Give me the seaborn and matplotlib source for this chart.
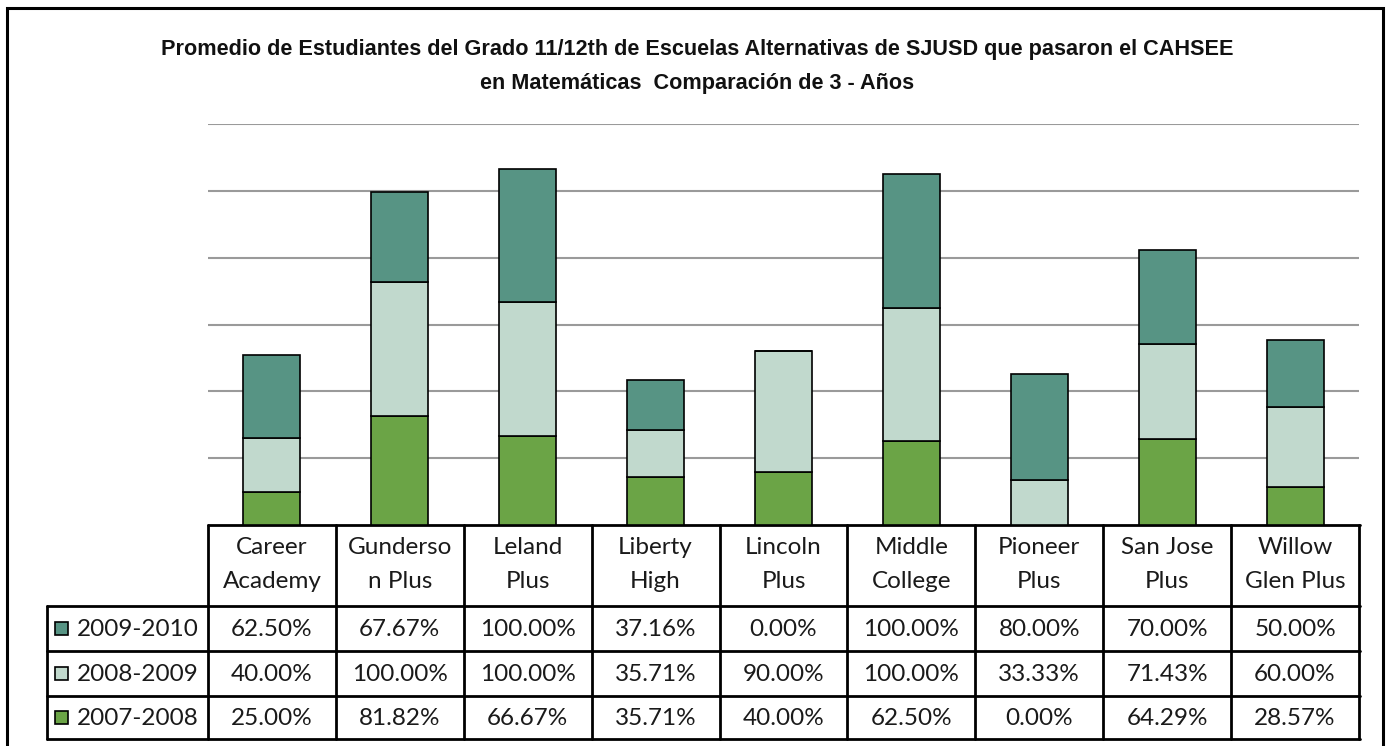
import numpy as np
import matplotlib
matplotlib.use("Agg")
import matplotlib.pyplot as plt
import seaborn as sns
from matplotlib.patches import Rectangle

# data
schools = ["Career\nAcademy", "Gunderso\nn Plus", "Leland\nPlus", "Liberty\nHigh", "Lincoln\nPlus",
           "Middle\nCollege", "Pioneer\nPlus", "San Jose\nPlus", "Willow\nGlen Plus"]
years = ["2009-2010", "2008-2009", "2007-2008"]
v2010 = [62.50, 67.67, 100.00, 37.16, 0.00, 100.00, 80.00, 70.00, 50.00]
v2009 = [40.00, 100.00, 100.00, 35.71, 90.00, 100.00, 33.33, 71.43, 60.00]
v2008 = [25.00, 81.82, 66.67, 35.71, 40.00, 62.50, 0.00, 64.29, 28.57]
colors = {"2009-2010": "#579484", "2008-2009": "#c1d9cd", "2007-2008": "#6ba446"}

sns.set_theme(style="white")
plt.rcParams['font.family'] = ['Lato', 'DejaVu Sans']

W, H = 1391, 746
fig = plt.figure(figsize=(W / 100, H / 100), dpi=100)

# background axes in pixel coordinates for frame, title and table
bg = fig.add_axes([0, 0, 1, 1], zorder=0)
bg.set_xlim(0, W)
bg.set_ylim(H, 0)
bg.axis("off")

x0, x1, ytop, ybot = 208, 1359, 124, 525
ax = fig.add_axes([x0 / W, (H - ybot) / H, (x1 - x0) / W, (ybot - ytop) / H], zorder=1)
ax.patch.set_alpha(0)

n = len(schools)
xs = np.arange(n)
b1 = np.array(v2008)
b2 = b1 + np.array(v2009)
kw = dict(width=0.445, edgecolor="black", linewidth=1.2, ax=ax, zorder=3)
sns.barplot(x=xs, y=v2008, color=colors["2007-2008"], saturation=1, **kw)
sns.barplot(x=xs, y=v2009, bottom=b1, color=colors["2008-2009"], saturation=1, **kw)
sns.barplot(x=xs, y=v2010, bottom=b2, color=colors["2009-2010"], saturation=1, **kw)

ax.set_xlim(-0.5, n - 0.5)
ax.set_ylim(0, 300)
ax.set_yticks([50, 100, 150, 200, 250, 300])
ax.yaxis.grid(True, color="#9a9a9a", linewidth=1.5)
ax.set_axisbelow(True)
ax.set_yticklabels([])
ax.set_xticks([])
ax.set_xlabel("")
ax.set_ylabel("")
ax.tick_params(left=False, bottom=False)
for s in ax.spines.values():
    s.set_visible(False)

# outer frame
bg.plot([7, 7, 1383, 1383], [H, 8, 8, H], color="black", lw=2.2, solid_joinstyle="miter")

# title
tfont = dict(family=["Liberation Sans Narrow", "Liberation Sans", "DejaVu Sans"], fontsize=15.6,
             fontweight="bold", ha="center", va="center", color="#111111")
bg.text(697, 50, "Promedio de Estudiantes del Grado 11/12th de Escuelas Alternativas de SJUSD que pasaron el CAHSEE", **tfont)
bg.text(697, 84, "en Matemáticas  Comparación de 3 - Años", **tfont)

# data table
col_w = (x1 - x0) / n
rows_y = [525, 606, 651, 696, 739]
leg_x = 47
lw = 2
bg.plot([x0, x1 + 1], [rows_y[0], rows_y[0]], color="black", lw=lw)
for y in rows_y[1:]:
    bg.plot([leg_x, x1 + 1], [y, y], color="black", lw=lw)
bg.plot([leg_x, leg_x], [rows_y[1], rows_y[-1]], color="black", lw=lw)
for i in range(n + 1):
    xe = x0 + i * col_w
    bg.plot([xe, xe], [rows_y[0], rows_y[-1]], color="black", lw=lw)

tk = dict(fontsize=17.5, ha="center", va="center", color="#1a1a1a")
for i, name in enumerate(schools):
    cx = x0 + (i + 0.5) * col_w
    top, bottom = name.split("\n")
    bg.text(cx, 548, top, **tk)
    bg.text(cx, 581, bottom, **tk)

series = {"2009-2010": v2010, "2008-2009": v2009, "2007-2008": v2008}
for r, yr in enumerate(years):
    cy = (rows_y[r + 1] + rows_y[r + 2]) / 2
    bg.add_patch(Rectangle((55, cy - 6.5), 13, 13, facecolor=colors[yr], edgecolor="black", lw=1.2))
    bg.text(77, cy + 1, yr, fontsize=17.5, ha="left", va="center", color="#1a1a1a")
    for i, v in enumerate(series[yr]):
        cx = x0 + (i + 0.5) * col_w
        bg.text(cx, cy + 1, f"{v:.2f}%", **tk)

fig.savefig("out.png", dpi=100, facecolor="white")
